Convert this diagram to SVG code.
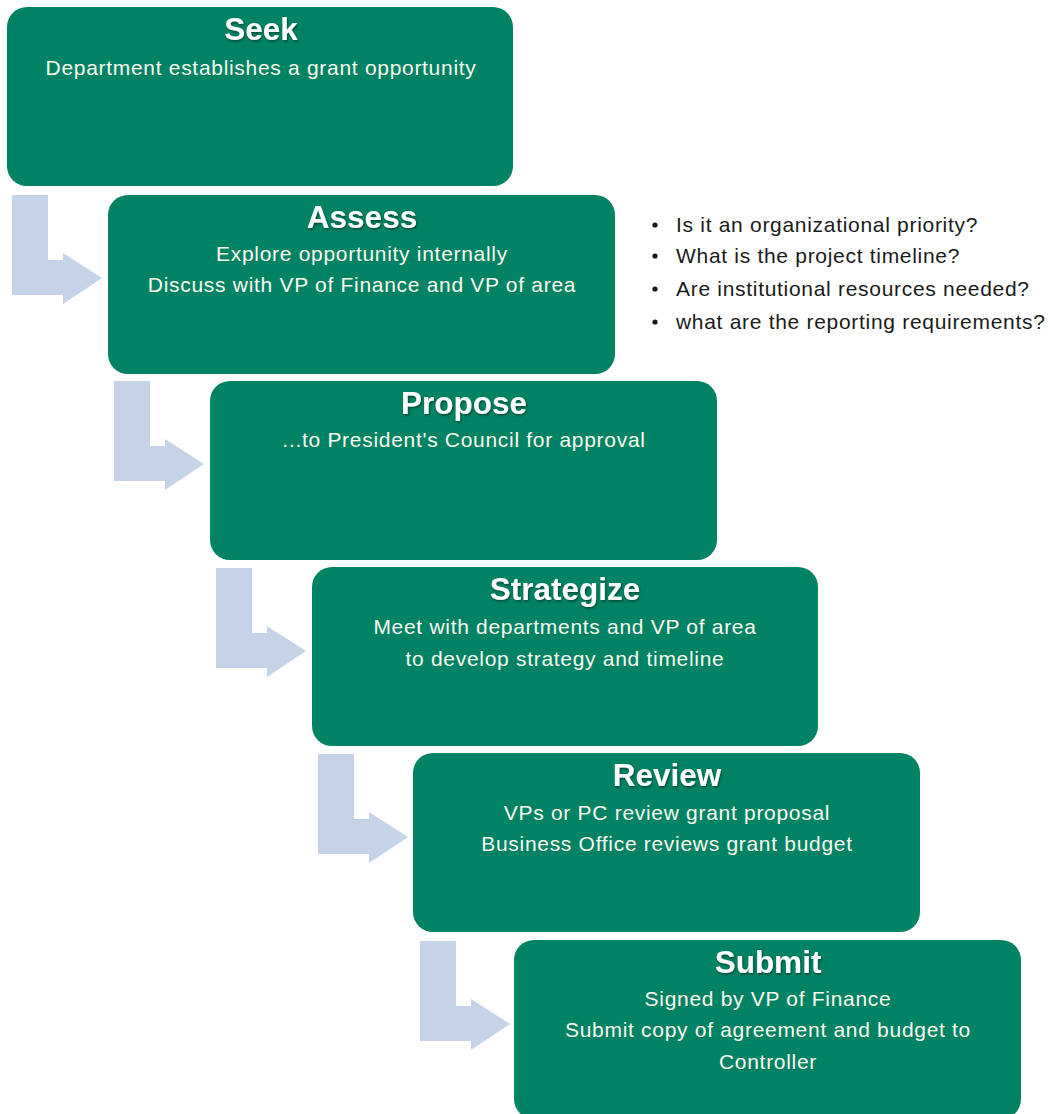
<svg xmlns="http://www.w3.org/2000/svg" xmlns:xlink="http://www.w3.org/1999/xlink" width="1048" height="1114" viewBox="0 0 1048 1114">
  <defs>
    <filter id="titleShadow" x="-10%" y="-20%" width="120%" height="150%">
      <feDropShadow dx="1" dy="1.5" stdDeviation="0.8" flood-color="#000" flood-opacity="0.45"/>
    </filter>
    <!-- bent step arrow: down then right -->
    <path id="bentArrow" d="M0,0 H36 V65 H51 V58 L90,83 L51,109 V100 H0 Z"/>
    <style>
      .box { fill: #008264; }
      .title { font-family: "Liberation Sans", Arial, sans-serif; font-weight: bold; font-size: 31.5px; fill: #ffffff; text-anchor: middle; filter: url(#titleShadow); }
      .body { font-family: "Liberation Sans", Arial, sans-serif; font-size: 21px; letter-spacing: 0.7px; fill: #fbfbf0; text-anchor: middle; }
      .arrow { fill: #c5d3e9; }
      .note { font-family: "Liberation Sans", Arial, sans-serif; font-size: 21px; letter-spacing: 0.7px; fill: #1a1a1a; }
    </style>
  </defs>

  <rect width="1048" height="1114" fill="#ffffff"/>

  <!-- connectors -->
  <g id="connectors" class="arrow">
    <use xlink:href="#bentArrow" x="12" y="195"/>
    <use xlink:href="#bentArrow" x="114" y="381"/>
    <use xlink:href="#bentArrow" x="216" y="568"/>
    <use xlink:href="#bentArrow" x="318" y="754"/>
    <use xlink:href="#bentArrow" x="420" y="941"/>
  </g>

  <g id="seek">
    <rect class="box" x="7" y="7" width="506" height="179" rx="20"/>
    <text class="title" x="261" y="40">Seek</text>
    <text class="body" x="261" y="75">Department establishes a grant opportunity</text>
  </g>

  <g id="assess">
    <rect class="box" x="108" y="195" width="507" height="179" rx="20"/>
    <text class="title" x="362" y="228">Assess</text>
    <text class="body" x="362" y="261">Explore opportunity internally</text>
    <text class="body" x="362" y="292">Discuss with VP of Finance and VP of area</text>
  </g>

  <g id="assess-questions" class="note">
    <circle cx="655" cy="225" r="2.6" fill="#1a1a1a"/>
    <text x="676" y="232">Is it an organizational priority?</text>
    <circle cx="655" cy="256" r="2.6" fill="#1a1a1a"/>
    <text x="676" y="263">What is the project timeline?</text>
    <circle cx="655" cy="289" r="2.6" fill="#1a1a1a"/>
    <text x="676" y="296">Are institutional resources needed?</text>
    <circle cx="655" cy="322" r="2.6" fill="#1a1a1a"/>
    <text x="676" y="329">what are the reporting requirements?</text>
  </g>

  <g id="propose">
    <rect class="box" x="210" y="381" width="507" height="179" rx="20"/>
    <text class="title" x="464" y="414">Propose</text>
    <text class="body" x="464" y="447">...to President's Council for approval</text>
  </g>

  <g id="strategize">
    <rect class="box" x="312" y="567" width="506" height="179" rx="20"/>
    <text class="title" x="565" y="600">Strategize</text>
    <text class="body" x="565" y="634">Meet with departments and VP of area</text>
    <text class="body" x="565" y="666">to develop strategy and timeline</text>
  </g>

  <g id="review">
    <rect class="box" x="413" y="753" width="507" height="179" rx="20"/>
    <text class="title" x="667" y="786">Review</text>
    <text class="body" x="667" y="820">VPs or PC review grant proposal</text>
    <text class="body" x="667" y="851">Business Office reviews grant budget</text>
  </g>

  <g id="submit">
    <rect class="box" x="514" y="940" width="507" height="179" rx="20"/>
    <text class="title" x="768" y="973">Submit</text>
    <text class="body" x="768" y="1006">Signed by VP of Finance</text>
    <text class="body" x="768" y="1037">Submit copy of agreement and budget to</text>
    <text class="body" x="768" y="1069">Controller</text>
  </g>
</svg>
